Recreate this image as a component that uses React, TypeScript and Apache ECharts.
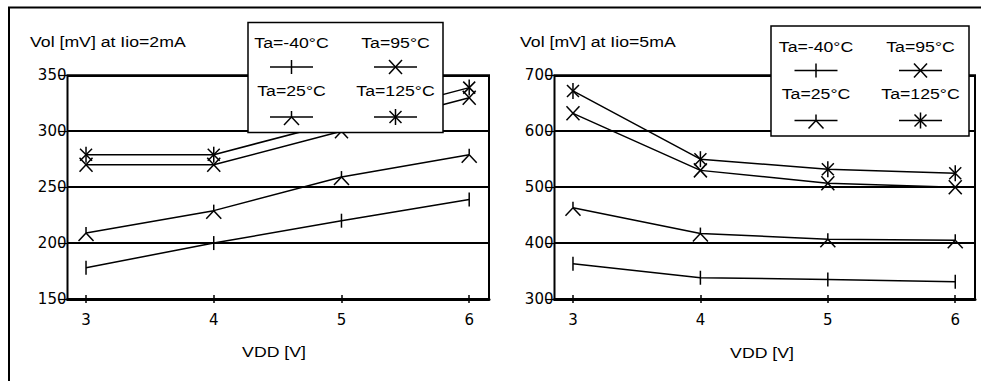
import React, { useEffect, useRef } from "react";
import * as echarts from "echarts";

// ---- data ----
const vdd = [3, 4, 5, 6];
const xTicks = [3, 4, 5, 6];
const tempLabels = ["Ta=-40°C", "Ta=25°C", "Ta=95°C", "Ta=125°C"];
const markerKinds = ["bar", "lambda", "x", "star"];

// Vol at Iio = 2mA
const vol2_m40 = [178, 200, 220, 239];
const vol2_p25 = [209, 229, 259, 279];
const vol2_p95 = [270, 270, 300, 330];
const vol2_p125 = [279, 279, 309, 339];

// Vol at Iio = 5mA
const vol5_m40 = [363, 338, 335, 331];
const vol5_p25 = [463, 417, 407, 405];
const vol5_p95 = [632, 530, 507, 500];
const vol5_p125 = [672, 550, 532, 525];

const titles = ["Vol [mV] at Iio=2mA", "Vol [mV] at Iio=5mA"];
const xName = "VDD [V]";
const yRanges = [
  { min: 150, max: 350, interval: 50 },
  { min: 300, max: 700, interval: 100 },
];

// ---- styles ----
const MARKS: Record<string, number[][]> = {
  bar: [[0, -7, 0, 7]],
  lambda: [
    [0, -6, 0, 0],
    [0, 0, -7.5, 8],
    [0, 0, 7.5, 8],
  ],
  x: [
    [-6.5, -7, 6.5, 7],
    [-6.5, 7, 6.5, -7],
  ],
  star: [
    [-6, -6, 6, 6],
    [-6, 6, 6, -6],
    [0, -8, 0, 8],
  ],
};
const LEGEND_MARKS: Record<string, number[][]> = {
  bar: [[0, -7, 0, 7]],
  lambda: MARKS.lambda,
  x: MARKS.x,
  star: MARKS.star,
};

const GRIDS = [
  { left: 67.5, top: 75.3, width: 421.5, height: 223.7 },
  { left: 554.5, top: 75.3, width: 420.5, height: 223.7 },
];
const LEGENDS = [
  { x: 248, y: 22.5, w: 195, h: 110, c1: 291.5, c2: 395.5 },
  { x: 771, y: 26, w: 198, h: 110, c1: 816, c2: 920.5 },
];
const TITLE_POS = [
  { x: 30, y: 41.5 },
  { x: 520, y: 41.5 },
];
const XNAME_POS = [
  { x: 274, y: 352 },
  { x: 762, y: 352.5 },
];

const TXT_FONT = '14.5px "Liberation Sans", Arial, sans-serif';
const TXT_SCALE = 1.22;
const AXIS_FONT = "DejaVu Sans";

function segsToLines(segs: number[][], cx: number, cy: number, z = 0) {
  return segs.map((s) => ({
    type: "line",
    z,
    shape: { x1: cx + s[0], y1: cy + s[1], x2: cx + s[2], y2: cy + s[3] },
    style: { stroke: "#000", lineWidth: 1.5 },
  }));
}

function textEl(text: string, x: number, y: number, align: string) {
  return {
    type: "text",
    x,
    y,
    z: 110,
    scaleX: TXT_SCALE,
    style: {
      text,
      font: TXT_FONT,
      fill: "#000",
      textAlign: align,
      textVerticalAlign: "middle",
      align,
      verticalAlign: "middle",
    },
  };
}

export default function App() {
  const ref = useRef<HTMLDivElement>(null);

  useEffect(() => {
    if (!ref.current) return;
    const chart = echarts.init(ref.current, null, { renderer: "svg" });

    const sets = [
      [vol2_m40, vol2_p25, vol2_p95, vol2_p125],
      [vol5_m40, vol5_p25, vol5_p95, vol5_p125],
    ];

    const xAxes: any[] = [];
    const yAxes: any[] = [];
    const series: any[] = [];

    GRIDS.forEach((g, gi) => {
      // main x axis: labels, thick bottom line, outward ticks
      xAxes.push({
        type: "value",
        gridIndex: gi,
        position: "bottom",
        min: 2.855,
        max: 6.155,
        axisLine: { show: true, onZero: false, lineStyle: { color: "#000", width: 3 } },
        axisTick: {
          show: true,
          inside: false,
          length: 4,
          customValues: xTicks,
          lineStyle: { color: "#000", width: 1.5 },
        },
        axisLabel: {
          show: true,
          customValues: xTicks,
          margin: 13,
          color: "#000",
          fontSize: 15,
          fontFamily: AXIS_FONT,
          formatter: (v: number) => String(Math.round(v)),
        },
        splitLine: { show: false },
      });
      // secondary x axis: inward ticks
      xAxes.push({
        type: "value",
        gridIndex: gi,
        position: "bottom",
        min: 2.855,
        max: 6.155,
        axisLine: { show: false, onZero: false },
        axisTick: {
          show: true,
          inside: true,
          length: 4,
          customValues: xTicks,
          lineStyle: { color: "#000", width: 1.5 },
        },
        axisLabel: { show: false },
        splitLine: { show: false },
      });
      yAxes.push({
        type: "value",
        gridIndex: gi,
        min: yRanges[gi].min,
        max: yRanges[gi].max,
        interval: yRanges[gi].interval,
        axisLine: { show: false },
        axisTick: { show: true, length: 9, lineStyle: { color: "#000", width: 1.2 } },
        axisLabel: {
          margin: 1,
          color: "#000",
          fontSize: 15,
          fontFamily: AXIS_FONT,
        },
        splitLine: { show: true, lineStyle: { color: "#000", width: 2 } },
      });

      sets[gi].forEach((vals, si) => {
        const pts = vdd.map((x, i) => [x, vals[i]]);
        series.push({
          type: "line",
          xAxisIndex: gi * 2,
          yAxisIndex: gi,
          data: pts,
          symbol: "none",
          lineStyle: { color: "#000", width: 1.5 },
          z: 3,
        });
        const kind = markerKinds[si];
        series.push({
          type: "custom",
          xAxisIndex: gi * 2,
          yAxisIndex: gi,
          data: pts,
          encode: { x: 0, y: 1 },
          z: 4,
          clip: false,
          renderItem: (params: any, api: any) => {
            const p = api.coord([api.value(0), api.value(1)]);
            return {
              type: "group",
              children: segsToLines(MARKS[kind], p[0], p[1]),
            };
          },
        });
      });
    });

    // graphic: outer frame, titles, axis names, legends
    const graphic: any[] = [
      {
        type: "rect",
        z: 120,
        shape: { x: 9, y: 7.5, width: 1100, height: 500 },
        style: { fill: "none", stroke: "#000", lineWidth: 2 },
        silent: true,
      },
    ];
    titles.forEach((t, i) => {
      graphic.push(textEl(t, TITLE_POS[i].x, TITLE_POS[i].y, "left"));
      graphic.push(textEl(xName, XNAME_POS[i].x, XNAME_POS[i].y, "center"));
    });
    LEGENDS.forEach((L) => {
      graphic.push({
        type: "rect",
        z: 100,
        shape: { x: L.x, y: L.y, width: L.w, height: L.h },
        style: { fill: "#fff", stroke: "#000", lineWidth: 1.5 },
      });
      const cells = [
        { c: L.c1, row: 0, idx: 0 },
        { c: L.c2, row: 0, idx: 2 },
        { c: L.c1, row: 1, idx: 1 },
        { c: L.c2, row: 1, idx: 3 },
      ];
      cells.forEach((cell) => {
        const ty = L.y + (cell.row === 0 ? 20.5 : 68);
        const my = L.y + (cell.row === 0 ? 44.5 : 94.5);
        graphic.push(textEl(tempLabels[cell.idx], cell.c, ty, "center"));
        graphic.push({
          type: "line",
          z: 110,
          shape: { x1: cell.c - 21.5, y1: my, x2: cell.c + 21.5, y2: my },
          style: { stroke: "#000", lineWidth: 1.5 },
        });
        segsToLines(LEGEND_MARKS[markerKinds[cell.idx]], cell.c, my, 110).forEach((e) =>
          graphic.push(e)
        );
      });
    });

    chart.setOption({
      animation: false,
      backgroundColor: "#fff",
      grid: GRIDS.map((g) => ({
        ...g,
        show: true,
        borderColor: "#000",
        borderWidth: 2,
        backgroundColor: "transparent",
        containLabel: false,
      })),
      xAxis: xAxes,
      yAxis: yAxes,
      series,
      graphic,
    });

    return () => chart.dispose();
  }, []);

  return (
    <div
      ref={ref}
      style={{ position: "absolute", left: 0, top: 0, width: 981, height: 381 }}
    />
  );
}
